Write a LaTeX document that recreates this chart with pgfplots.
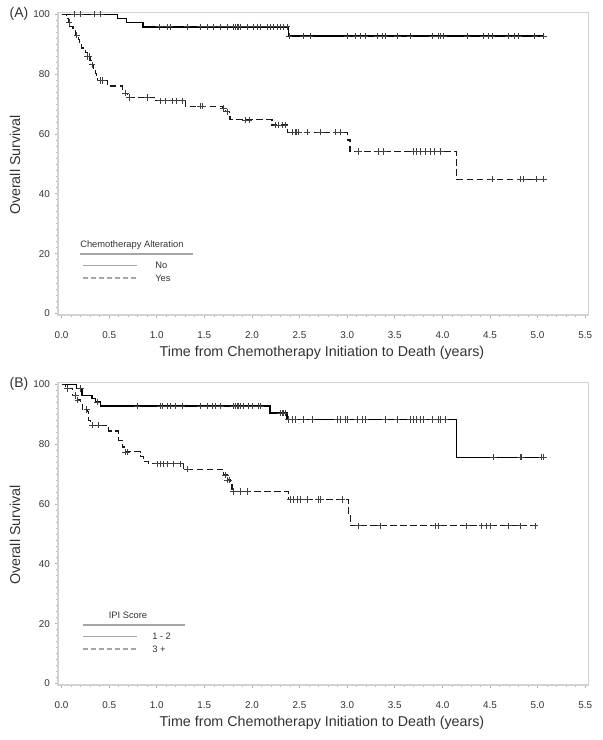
\documentclass[border=0pt]{standalone}
\usepackage{pgfplots}
\pgfplotsset{compat=1.18}
\usepackage{fontspec}
\setmainfont{Liberation Sans}

\definecolor{txt}{HTML}{333333}

% Kaplan-Meier panels, survival in percent
\pgfplotstableread{
t s
0 100
0.588 98.6
0.68 97.2
0.857 95.8
2.385 92.7
5.06 92.7
}\aNo
\pgfplotstableread{
t s
0.13 100
0.20 100
0.34 100
0.41 100
1.03 95.8
1.11 95.8
1.14 95.8
1.32 95.8
1.46 95.8
1.53 95.8
1.59 95.8
1.67 95.8
1.74 95.8
1.80 95.8
1.83 95.8
1.85 95.8
1.86 95.8
1.88 95.8
1.95 95.8
2.01 95.8
2.06 95.8
2.09 95.8
2.16 95.8
2.19 95.8
2.22 95.8
2.27 95.8
2.30 95.8
2.33 95.8
2.37 95.8
2.39 92.7
2.54 92.7
2.61 92.7
3.00 92.7
3.09 92.7
3.14 92.7
3.19 92.7
3.32 92.7
3.37 92.7
3.40 92.7
3.53 92.7
3.66 92.7
3.89 92.7
3.96 92.7
3.98 92.7
4.01 92.7
4.26 92.7
4.43 92.7
4.48 92.7
4.52 92.7
4.69 92.7
4.76 92.7
4.80 92.7
4.97 92.7
5.06 92.7
}\aNoCens
\pgfplotstableread{
t s
0 100
0.05 98.6
0.07 97.2
0.09 95.8
0.12 94.4
0.15 93.0
0.18 91.5
0.19 90.1
0.21 88.7
0.25 87.3
0.27 85.9
0.30 84.5
0.32 83.1
0.34 81.7
0.36 80.3
0.37 78.9
0.38 77.9
0.48 76.0
0.64 73.6
0.69 72.2
0.99 71.1
1.30 69.3
1.69 68.5
1.72 67.4
1.76 66.3
1.77 64.7
2.21 63.0
2.37 60.6
3.00 58.0
3.03 54.1
4.15 44.9
5.06 44.9
}\aYes
\pgfplotstableread{
t s
0.08 97.2
0.16 93.0
0.27 85.9
0.29 85.9
0.32 83.1
0.41 77.9
0.43 77.9
0.67 73.6
0.71 72.2
0.90 72.2
1.04 71.1
1.09 71.1
1.16 71.1
1.21 71.1
1.27 71.1
1.46 69.3
1.48 69.3
1.70 68.5
1.74 67.4
1.93 64.7
1.97 64.7
2.25 63.0
2.28 63.0
2.32 63.0
2.35 63.0
2.42 60.6
2.46 60.6
2.47 60.6
2.49 60.6
2.58 60.6
2.72 60.6
2.88 60.6
2.93 60.6
3.12 54.1
3.33 54.1
3.38 54.1
3.70 54.1
3.73 54.1
3.77 54.1
3.82 54.1
3.87 54.1
3.92 54.1
3.98 54.1
4.52 44.9
4.82 44.9
4.85 44.9
4.99 44.9
5.06 44.9
}\aYesCens
\pgfplotstableread{
t s
0 100
0.157 98.6
0.217 96.3
0.32 95.2
0.357 94.1
0.41 92.7
2.19 90.4
2.37 88.2
4.15 75.6
5.06 75.6
}\bLow
\pgfplotstableread{
t s
0.20 98.6
0.375 94.1
0.794 92.7
1.039 92.7
1.057 92.7
1.109 92.7
1.143 92.7
1.196 92.7
1.267 92.7
1.459 92.7
1.529 92.7
1.581 92.7
1.616 92.7
1.669 92.7
1.808 92.7
1.826 92.7
1.844 92.7
1.860 92.7
1.878 92.7
1.913 92.7
1.965 92.7
2.001 92.7
2.070 92.7
2.088 92.7
2.298 90.4
2.316 90.4
2.333 90.4
2.350 90.4
2.385 88.2
2.421 88.2
2.455 88.2
2.542 88.2
2.631 88.2
2.893 88.2
2.928 88.2
2.980 88.2
2.998 88.2
3.103 88.2
3.155 88.2
3.190 88.2
3.400 88.2
3.523 88.2
3.662 88.2
3.697 88.2
3.732 88.2
3.767 88.2
3.802 88.2
3.890 88.2
3.959 88.2
3.977 88.2
4.029 88.2
4.536 75.6
4.816 75.6
4.834 75.6
5.044 75.6
5.061 75.6
}\bLowCens
\pgfplotstableread{
t s
0 100
0.042 98.6
0.112 96.3
0.165 94.7
0.20 93.6
0.217 91.5
0.27 90.8
0.286 88.0
0.304 86.3
0.496 84.4
0.601 81.3
0.637 79.0
0.672 77.4
0.829 75.8
0.864 74.1
0.916 73.4
1.283 71.6
1.703 69.7
1.739 68.0
1.773 66.3
1.791 64.2
2.385 61.5
3.015 56.4
3.033 52.7
4.99 52.7
}\bHigh
\pgfplotstableread{
t s
0.06 98.6
0.147 96.3
0.171 94.7
0.265 91.5
0.322 86.3
0.391 86.3
0.672 77.4
0.689 77.4
1.004 73.4
1.039 73.4
1.073 73.4
1.109 73.4
1.178 73.4
1.249 73.4
1.319 71.6
1.721 69.7
1.745 68.0
1.760 68.0
1.808 64.2
1.878 64.2
1.949 64.2
2.403 61.5
2.438 61.5
2.473 61.5
2.508 61.5
2.578 61.5
2.700 61.5
2.718 61.5
2.945 61.5
3.120 52.7
3.347 52.7
3.924 52.7
3.959 52.7
4.257 52.7
4.414 52.7
4.467 52.7
4.501 52.7
4.694 52.7
4.816 52.7
4.974 52.7
}\bHighCens

\pgfplotsset{
  km/.style={
    width=397.9pt, height=226.7pt, scale only axis,
    anchor=south west,
    xmin=-0.037, xmax=5.535, ymin=-0.5, ymax=100.5,
    xtick={0,0.5,1,1.5,2,2.5,3,3.5,4,4.5,5,5.5},
    ytick={0,20,40,60,80,100},
    minor x tick num=4, minor y tick num=9,
    tick align=outside,
    major tick length=2.5pt, minor tick length=1.5pt,
    axis line style={gray!35, line width=0.8pt},
    tick style={gray!60, line width=0.5pt},
    xtick pos=bottom, ytick pos=left,
    /pgf/number format/assume math mode=true,
    ticklabel style={font=\fontsize{7.4}{9}\selectfont, text=txt},
    xticklabel style={yshift=-6.5pt, /pgf/number format/.cd, fixed, fixed zerofill, precision=1},
    clip=false,
  },
  cens/.style={only marks, mark=+, mark size=2.4pt,
    mark options={line width=0.55pt, black!75}},
  solidkm/.style={const plot, black, line width=1.1pt},
  dashkm/.style={const plot, black!90, line width=0.9pt, dash pattern=on 5pt off 2.5pt},
}

\begin{document}
\begin{tikzpicture}
\useasboundingbox (0pt,0pt) rectangle (452.25pt,-555pt);

% panel A
\begin{axis}[km, at={(43.5pt,-236.25pt)}]
\addplot[solidkm] table[x=t, y=s] {\aNo};
\addplot[dashkm] table[x=t, y=s] {\aYes};
\addplot[cens] table[x=t, y=s] {\aNoCens};
\addplot[cens] table[x=t, y=s] {\aYesCens};
\end{axis}

% panel B
\begin{axis}[km, at={(43.5pt,-513.75pt)}]
\addplot[solidkm] table[x=t, y=s] {\bLow};
\addplot[dashkm] table[x=t, y=s] {\bHigh};
\addplot[cens] table[x=t, y=s] {\bLowCens};
\addplot[cens] table[x=t, y=s] {\bHighCens};
\end{axis}

\begin{scope}[x=0.75pt, y=-0.75pt]
% panel letters and axis titles
\node[font=\fontsize{10.5}{12}\selectfont, text=txt] at (19,14) {(A)};
\node[font=\fontsize{10.5}{12}\selectfont, text=txt] at (19,384) {(B)};
\node[rotate=90, font=\fontsize{10.7}{12}\selectfont, text=txt] at (15,165) {Overall Survival};
\node[rotate=90, font=\fontsize{10.7}{12}\selectfont, text=txt] at (15,535) {Overall Survival};
\node[font=\fontsize{10.7}{12}\selectfont, text=txt] at (322,353) {Time from Chemotherapy Initiation to Death (years)};
\node[font=\fontsize{10.7}{12}\selectfont, text=txt] at (322,723) {Time from Chemotherapy Initiation to Death (years)};

% legend A
\begin{scope}[every node/.style={font=\fontsize{7}{8}\selectfont, text=txt, inner sep=0pt}]
\node[anchor=west] at (80,245) {Chemotherapy Alteration};
\draw[gray!70, line width=0.8pt] (80,254) -- (193,254);
\draw[gray!70, line width=0.8pt] (83,265.7) -- (137,265.7);
\node[anchor=west] at (155,265.7) {No};
\draw[gray!70, line width=0.8pt, dash pattern=on 4pt off 2pt] (83,278) -- (137,278);
\node[anchor=west] at (155,278) {Yes};

% legend B
\node at (128,615) {IPI Score};
\draw[gray!70, line width=0.8pt] (83,625) -- (185,625);
\draw[gray!70, line width=0.8pt] (83,636.7) -- (137,636.7);
\node[anchor=west] at (152,636.7) {1 - 2};
\draw[gray!70, line width=0.8pt, dash pattern=on 4pt off 2pt] (83,649) -- (137,649);
\node[anchor=west] at (152,649) {3 +};
\end{scope}
\end{scope}
\end{tikzpicture}
\end{document}
